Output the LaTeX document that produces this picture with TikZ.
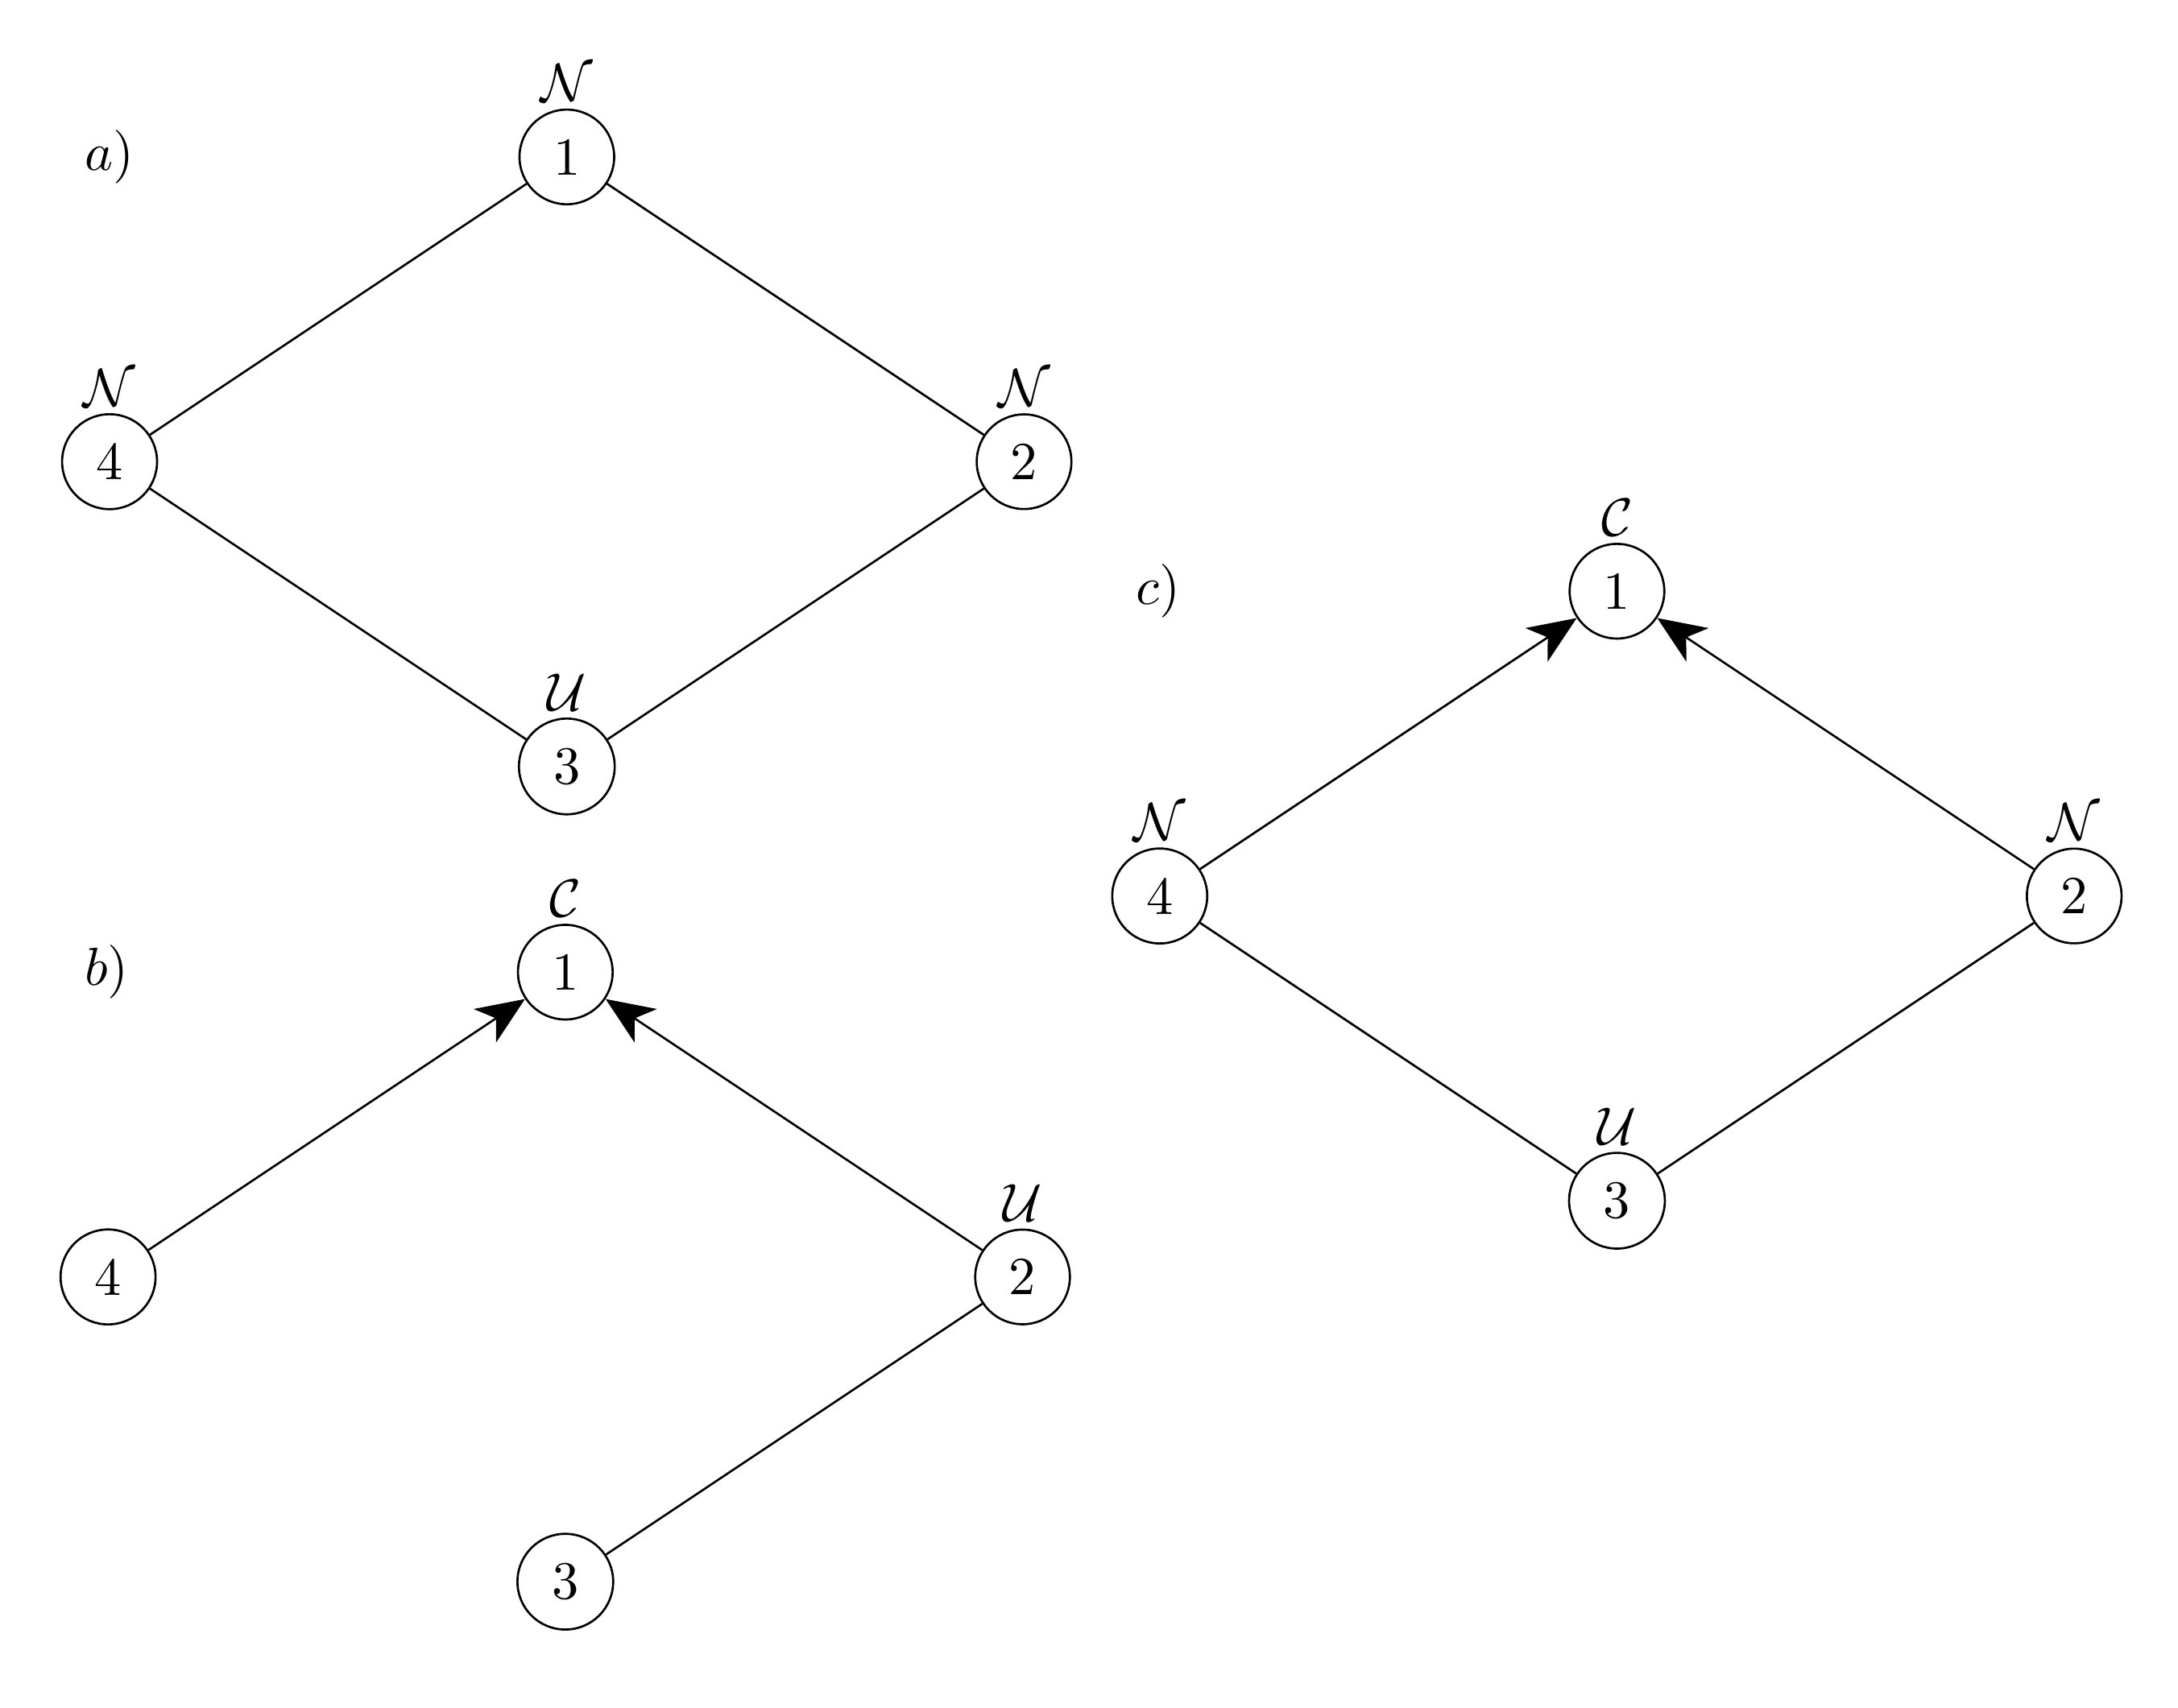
\documentclass[tikz,border=0pt]{standalone}
\usetikzlibrary{arrows.meta}
\begin{document}
\begin{tikzpicture}
\tikzset{
  vtx/.style={circle,draw,fill=white},
  every label/.style={yshift=-2.2pt},
  arr/.style={-{Stealth[length=9pt,width=7.5pt,inset=2.5pt]}},
  plain/.style={}
}
\useasboundingbox (-0.719,1.03) rectangle (13.571,-10.175);
% panel a
\node (la) at (0,0) {$a)$};
\node[vtx,label={above:$\mathcal{N}$}] (a1) at (3,0) {1};
\node[vtx,label={above:$\mathcal{N}$}] (a2) at (6,-2) {2};
\node[vtx,label={above:$\mathcal{U}$}] (a3) at (3,-4) {3};
\node[vtx,label={above:$\mathcal{N}$}] (a4) at (0,-2) {4};
\draw (a1) -- (a2);
\draw (a2) -- (a3);
\draw (a3) -- (a4);
\draw (a4) -- (a1);
% panel b
\node (lb) at (-0.02,-5.35) {$b)$};
\node[vtx,label={above:$\mathcal{C}$}] (b1) at (2.99,-5.35) {1};
\node[vtx,label={above:$\mathcal{U}$}] (b2) at (5.99,-7.35) {2};
\node[vtx] (b3) at (2.99,-9.35) {3};
\node[vtx] (b4) at (-0.01,-7.35) {4};
\draw[arr] (b4) -- (b1);
\draw[arr] (b2) -- (b1);
\draw (b2) -- (b3);
% panel c
\node (lc) at (6.88,-2.85) {$c)$};
\node[vtx,label={above:$\mathcal{C}$}] (c1) at (9.89,-2.85) {1};
\node[vtx,label={above:$\mathcal{N}$}] (c2) at (12.89,-4.85) {2};
\node[vtx,label={above:$\mathcal{U}$}] (c3) at (9.89,-6.85) {3};
\node[vtx,label={above:$\mathcal{N}$}] (c4) at (6.89,-4.85) {4};
\draw[arr] (c4) -- (c1);
\draw[arr] (c2) -- (c1);
\draw (c2) -- (c3);
\draw (c3) -- (c4);
\end{tikzpicture}
\end{document}
